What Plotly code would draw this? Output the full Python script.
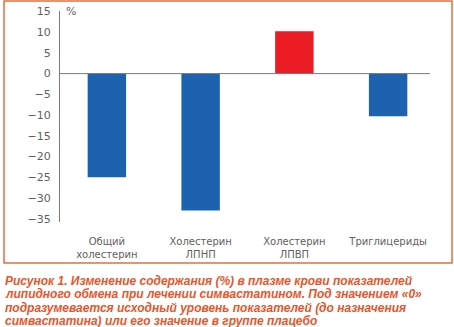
import plotly.graph_objects as go

categories = ["Общий<br>холестерин", "Холестерин<br>ЛПНП", "Холестерин<br>ЛПВП", "Триглицериды"]
values = [-25, -33, 10.2, -10.3]
colors = ["#1C62AE", "#1C62AE", "#EC1C24", "#1C62AE"]
y_ticks = [15, 10, 5, 0, -5, -10, -15, -20, -25, -30, -35]
y_tick_text = ["15", "10", "5", "0", "−5", "−10", "−15", "−20", "−25", "−30", "−35"]
caption_lines = [
    "Рисунок 1. Изменение содержания (%) в плазме крови показателей",
    "липидного обмена при лечении симвастатином. Под значением «0»",
    "подразумевается исходный уровень показателей (до назначения",
    "симвастатина) или его значение в группе плацебо",
]

W, H = 454, 327
L, R, T, B = 60, 19, 11, 105
PW, PH = W - L - R, H - T - B


def px(x):
    return (x - L) / PW


def py(y):
    return (H - B - y) / PH


fig = go.Figure()
fig.add_trace(go.Bar(x=list(range(len(categories))), y=values, marker=dict(color=colors, line=dict(width=0)),
                     width=0.41, hoverinfo="skip"))

grey = "#5f5f5f"
fig.update_layout(
    width=W, height=H,
    margin=dict(l=L, r=R, t=T, b=B, autoexpand=False),
    paper_bgcolor="white", plot_bgcolor="white",
    showlegend=False,
    xaxis=dict(range=[-0.5, 3.5], tickmode="array", tickvals=list(range(len(categories))),
               ticktext=categories, showgrid=False, zeroline=False, showline=False,
               ticks="", ticklabelstandoff=12, automargin=False,
               tickfont=dict(family="DejaVu Sans", size=10, color=grey)),
    yaxis=dict(range=[-35.8, 15.1], tickmode="array", tickvals=y_ticks, ticktext=y_tick_text,
               showgrid=False, zeroline=False, showline=True, linecolor="#7a7a7a", linewidth=1,
               ticks="", ticklabelstandoff=6, automargin=False,
               tickfont=dict(family="DejaVu Sans", size=11, color=grey)),
    font=dict(family="DejaVu Sans"),
)
# zero line
fig.add_shape(type="line", xref="paper", yref="y", x0=0, x1=px(430), y0=0, y1=0,
              line=dict(color="#7a7a7a", width=1))
# percent label
fig.add_annotation(xref="paper", yref="y", x=px(64), y=15, text="%", showarrow=False,
                   xanchor="left", yanchor="middle", font=dict(family="DejaVu Sans", size=11, color=grey))
# frame
fig.add_shape(type="rect", xref="paper", yref="paper",
              x0=px(4), x1=px(452), y0=py(263), y1=py(1),
              line=dict(color="#E0703C", width=1.5), fillcolor="rgba(0,0,0,0)", layer="below")
# caption, one annotation per line for tight spacing
for i, line in enumerate(caption_lines):
    fig.add_annotation(xref="paper", yref="paper", x=px(3), y=py(280.5 + i * 13.5),
                       text="<b><i>" + line + "</i></b>", showarrow=False, align="left",
                       xanchor="left", yanchor="middle",
                       font=dict(family="Liberation Sans", size=12, color="#E9552B"))
fig.write_html("out.html")
